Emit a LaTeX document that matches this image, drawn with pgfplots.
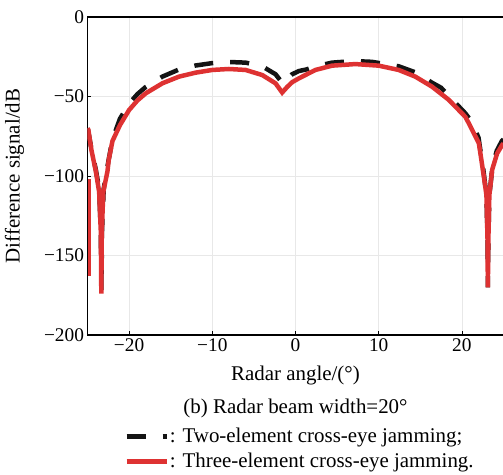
\documentclass[border=0pt]{standalone}
\usepackage{fontspec}
\setmainfont{Liberation Serif}
\usepackage{pgfplots}
\pgfplotsset{compat=1.18}
\definecolor{jred}{RGB}{222,50,50}
\definecolor{jblack}{RGB}{20,20,20}
\begin{document}
\begin{tikzpicture}
\begin{axis}[
    at={(0,0)}, anchor=south west,
    scale only axis, width=416bp, height=318bp,
    xmin=-25, xmax=25, ymin=-200, ymax=0,
    xtick={-20,-10,0,10,20},
    xticklabels={−20,−10,0,10,20},
    ytick={-200,-150,-100,-50,0},
    yticklabels={−200,−150,−100,−50,0},
    tick pos=left, tick align=inside,
    major tick length=4bp,
    tick style={black, line width=0.8bp},
    axis line style={line width=1.1bp},
    grid=major,
    grid style={gray!18, line width=0.7bp},
    font=\fontsize{19.4}{23}\selectfont,
    label style={font=\fontsize{21}{25}\selectfont},
    xlabel={Radar angle/(°)},
    ylabel={Difference signal/dB},
    xlabel style={at={(axis description cs:0.5,-0.126)}, anchor=center},
    ylabel style={at={(axis description cs:-0.1755,0.5)}, anchor=center},
    legend cell align=left,
    legend style={at={(axis description cs:0.088,-0.290)}, anchor=north west,
        draw=none, fill=none, inner sep=0pt, row sep=7bp,
        nodes={inner sep=1bp}, font=\fontsize{21}{25}\selectfont},
    legend image code/.code={\draw[#1] (0bp,0bp) -- (40bp,0bp);},
]
% two-element
\addplot[jblack, line width=4.5bp, dash pattern=on 19bp off 17bp] coordinates {
    (-25,-70) (-24.9,-72) (-24.53,-83) (-24.0,-96) (-23.6,-108) (-23.4,-135)
    (-23.32,-172) (-23.26,-135) (-23.05,-108) (-22.5,-91) (-22.0,-77)
    (-21.1,-64) (-20,-54.5) (-19,-48.5) (-18,-44) (-16,-37.5) (-14,-33)
    (-12,-30.5) (-10,-29) (-8,-28.3) (-6,-28.7) (-4,-31) (-2.4,-36)
    (-1.5,-42) (-1.0,-39) (-0.4,-36) (0.4,-34) (1.3,-33) (2.4,-31)
    (4.4,-28.7) (7,-27.7) (9.2,-28.2) (12.4,-31) (14.4,-34.8) (16.4,-41.3)
    (17.5,-44.5) (18.4,-49.5) (20.4,-60.5) (21.2,-66) (22.0,-76) (22.6,-97)
    (22.95,-112) (23.08,-140) (23.12,-170) (23.18,-140) (23.3,-112)
    (23.7,-93) (24.2,-84) (24.8,-78) (25,-77)
};
\addlegendentry{: Two-element cross-eye jamming;}
% three-element
\addplot[jred, line width=4.5bp] coordinates {
    (-25,-70) (-24.9,-71) (-24.53,-83.6) (-24.0,-97) (-23.6,-110) (-23.4,-135)
    (-23.34,-174) (-23.28,-135) (-23.1,-110) (-22.6,-97) (-22.45,-90)
    (-22.0,-78) (-21.1,-68) (-20,-58.5) (-19,-52.5) (-18,-48) (-16,-41.7)
    (-14,-37.5) (-12,-35) (-10,-33.3) (-8,-32.7) (-6,-33.3) (-4,-36.5)
    (-2.4,-41.7) (-1.6,-47.5) (-1.0,-44) (-0.4,-41) (0.4,-38.6) (2.4,-33.3)
    (4.4,-30.6) (7.2,-29.6) (10,-30.6) (12.4,-33.3) (14.4,-37.5)
    (16.4,-43.8) (18.4,-52) (20.4,-62.7) (20.84,-66.9) (22.04,-79.4)
    (22.64,-100.4) (22.95,-112) (23.08,-140) (23.12,-170) (23.18,-140)
    (23.3,-112) (23.64,-96) (24.24,-85.7) (24.84,-80.5) (25,-79.5)
};
\addlegendentry{: Three-element cross-eye jamming.}
\addplot[jred, line width=2.5bp, forget plot] coordinates {
    (-24.75,-102) (-24.75,-163)
};
\end{axis}
\node[anchor=center, font=\fontsize{21}{25}\selectfont] at (208bp,-73bp) {(b) Radar beam width=20°};
\pgfresetboundingbox
\useasboundingbox (-87.5bp,-140bp) rectangle (415.5bp,335bp);
\end{tikzpicture}
\end{document}
